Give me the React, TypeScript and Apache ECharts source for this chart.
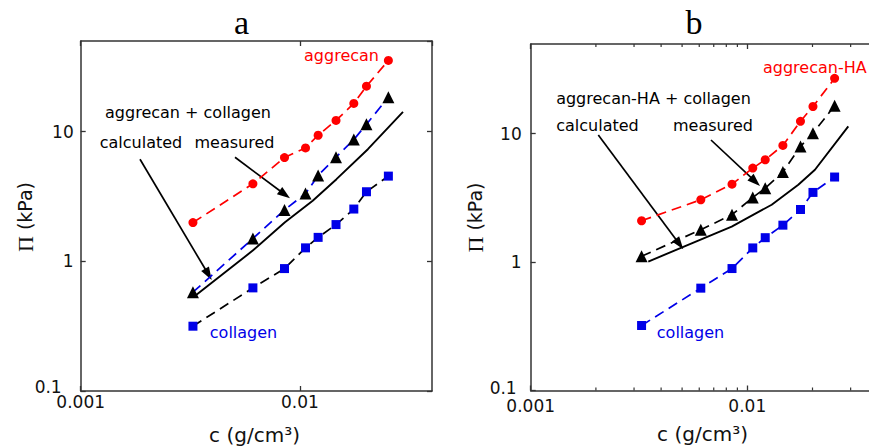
import React, { useEffect, useRef } from 'react';
import * as echarts from 'echarts';

// concentration c (g/cm^3) of the measured points (shared by both panels)
const concentration = [0.00325, 0.0061, 0.0085, 0.0106, 0.0121, 0.0146, 0.0176, 0.0201, 0.0253];

// Panel a
const aggrecanA = [1.99, 3.96, 6.31, 7.49, 9.38, 12.2, 16.5, 22.4, 35.4];
const mixMeasuredA = [0.578, 1.5, 2.49, 3.33, 4.59, 6.35, 8.68, 11.4, 18.4];
const collagenA = [0.316, 0.624, 0.879, 1.27, 1.53, 1.92, 2.53, 3.44, 4.54];
const calcConcA = [0.00326, 0.00609, 0.00854, 0.01143, 0.01467, 0.0204, 0.0295];
const calcA = [0.528, 1.21, 2.0, 2.93, 4.3, 7.32, 14.2];

// Panel b
const aggrecanHA = [2.1, 3.06, 4.05, 5.4, 6.27, 8.11, 12.5, 16.3, 27.0];
const mixMeasuredB = [1.11, 1.79, 2.34, 3.19, 3.77, 5.03, 7.96, 10.1, 16.5];
const collagenB = [0.321, 0.627, 0.891, 1.29, 1.55, 1.94, 2.57, 3.49, 4.6];
const calcConcB = [0.00349, 0.00605, 0.00847, 0.01296, 0.0172, 0.02053, 0.02926];
const calcB = [1.01, 1.49, 1.89, 2.8, 4.0, 5.24, 11.4];

// ticks
const xTickValues = [0.001, 0.01];
const xTickLabels = ['0.001', '0.01'];
const yTickValues = [0.1, 1, 10];
const yTickLabels = ['0.1', '1', '10'];
const minorTickValues = [0.002, 0.003, 0.004, 0.005, 0.006, 0.007, 0.008, 0.009, 0.02, 0.03];

const X_MIN = 0.001;
const X_MAX = 0.04;
const Y_MIN = 0.1;
const Y_MAX = 50;

const RED = '#ff0000';
const BLUE = '#0000e8';
const AXIS = '#333333';
const SANS = 'DejaVu Sans';
const SERIF = 'Liberation Serif';
const TICK_FONT = 17;

const zip = (xs: number[], ys: number[]) => xs.map((x, i) => [x, ys[i]]);
const findIdx = (arr: number[], v: number) => arr.findIndex((t) => Math.abs(t - v) / t < 1e-6);

function arrow(x1: number, y1: number, x2: number, y2: number) {
  const dx = x2 - x1;
  const dy = y2 - y1;
  const L = Math.hypot(dx, dy);
  const ux = dx / L;
  const uy = dy / L;
  const hl = 13;
  const hw = 4.5;
  const bx = x2 - ux * hl;
  const by = y2 - uy * hl;
  const px = -uy;
  const py = ux;
  return [
    { type: 'line', shape: { x1, y1, x2: bx + ux * 2, y2: by + uy * 2 }, style: { stroke: '#000', lineWidth: 1.7 } },
    {
      type: 'polygon',
      shape: { points: [[x2, y2], [bx + px * hw, by + py * hw], [bx - px * hw, by - py * hw]] },
      style: { fill: '#000' },
    },
  ];
}

function txt(x: number, y: number, text: string, color = '#000', align = 'center', size = 16, family = SANS) {
  return {
    type: 'text',
    x,
    y,
    style: { text, fill: color, fontSize: size, fontFamily: family, align, verticalAlign: 'middle' },
  };
}

function yName(x: number, y: number) {
  return {
    type: 'text',
    x,
    y,
    rotation: Math.PI / 2,
    style: {
      text: '{s|Π} (kPa)',
      fill: '#111',
      fontSize: 19,
      fontFamily: SANS,
      align: 'center',
      verticalAlign: 'middle',
      rich: {
        s: { fontFamily: SERIF, fontSize: 22, fill: '#111' },
      },
    },
  };
}

export default function App() {
  const ref = useRef<HTMLDivElement>(null);

  useEffect(() => {
    if (!ref.current) return;
    const chart = echarts.init(ref.current, null, { renderer: 'svg' });

    const panels = [
      { left: 80.7, top: 41, width: 351.3, height: 350, yMargin: 7, xMargin: 2, lowPad: [0, 12, 8, 0] },
      { left: 530.7, top: 44, width: 347, height: 346.5, yMargin: 9, xMargin: 7, lowPad: [0, 5, 6, 0] },
    ];

    const grid: any[] = [];
    const xAxis: any[] = [];
    const yAxis: any[] = [];
    panels.forEach((p, i) => {
      grid.push({ left: p.left, top: p.top, width: p.width, height: p.height, containLabel: false });
      const axisLine = { show: true, lineStyle: { color: AXIS, width: 1.5 } };
      const axisTick = { show: true, inside: true, length: 5, lineStyle: { color: AXIS, width: 1.3 } };
      ['bottom', 'top'].forEach((pos) => {
        xAxis.push({
          type: 'log',
          logBase: 10,
          gridIndex: i,
          position: pos,
          min: X_MIN,
          max: X_MAX,
          axisLine,
          axisTick,
          splitLine: { show: false },
          minorTick: { show: false },
          axisLabel: {
            show: pos === 'bottom',
            margin: p.xMargin,
            fontSize: TICK_FONT,
            fontFamily: SANS,
            color: '#111',
            showMaxLabel: false,
            formatter: (v: number) => {
              const k = findIdx(xTickValues, v);
              return k >= 0 ? xTickLabels[k] : '';
            },
          },
        });
      });
      ['left', 'right'].forEach((pos) => {
        yAxis.push({
          type: 'log',
          logBase: 10,
          gridIndex: i,
          position: pos,
          min: Y_MIN,
          max: Y_MAX,
          axisLine,
          axisTick,
          splitLine: { show: false },
          minorTick: { show: false },
          axisLabel: {
            show: pos === 'left',
            margin: p.yMargin,
            fontSize: TICK_FONT,
            fontFamily: SANS,
            color: '#111',
            showMaxLabel: false,
            formatter: (v: number) => {
              const k = findIdx(yTickValues, v);
              if (k < 0) return '';
              return k === 0 ? '{low|' + yTickLabels[k] + '}' : yTickLabels[k];
            },
            rich: {
              low: { fontSize: TICK_FONT, fontFamily: SANS, color: '#111', padding: p.lowPad },
            },
          },
        });
      });
    });

    const dashed = (color: string) => ({ color, width: 1.7, type: [10, 6] });

    const mkSeries = (i: number, agg: number[], meas: number[], col: number[], cc: number[], calc: number[], measLine: string, colLine: string) => [
      {
        type: 'line',
        xAxisIndex: 2 * i,
        yAxisIndex: 2 * i,
        data: zip(concentration, agg),
        symbol: 'circle',
        symbolSize: 9,
        itemStyle: { color: RED },
        lineStyle: dashed(RED),
        z: 3,
      },
      {
        type: 'line',
        xAxisIndex: 2 * i,
        yAxisIndex: 2 * i,
        data: zip(concentration, meas),
        symbol: 'triangle',
        symbolSize: 12,
        itemStyle: { color: '#000' },
        lineStyle: dashed(measLine),
        z: 3,
      },
      {
        type: 'line',
        xAxisIndex: 2 * i,
        yAxisIndex: 2 * i,
        data: zip(concentration, col),
        symbol: 'rect',
        symbolSize: 9,
        itemStyle: { color: BLUE },
        lineStyle: dashed(colLine),
        z: 3,
      },
      {
        type: 'line',
        xAxisIndex: 2 * i,
        yAxisIndex: 2 * i,
        data: zip(cc, calc),
        symbol: 'none',
        lineStyle: { color: '#000', width: 1.9 },
        z: 2,
      },
    ];

    const series: any[] = [
      ...mkSeries(0, aggrecanA, mixMeasuredA, collagenA, calcConcA, calcA, BLUE, '#000'),
      ...mkSeries(1, aggrecanHA, mixMeasuredB, collagenB, calcConcB, calcB, '#000', BLUE),
      {
        type: 'custom',
        xAxisIndex: 2,
        yAxisIndex: 2,
        silent: true,
        clip: false,
        data: minorTickValues.map((v) => [v, 1]),
        renderItem: (params: any, api: any) => {
          const x = api.value(0);
          const b = api.coord([x, Y_MIN]);
          const t = api.coord([x, Y_MAX]);
          const st = { stroke: AXIS, lineWidth: 1.2 };
          return {
            type: 'group',
            children: [
              { type: 'line', shape: { x1: b[0], y1: b[1], x2: b[0], y2: b[1] - 3 }, style: st },
              { type: 'line', shape: { x1: t[0], y1: t[1], x2: t[0], y2: t[1] + 3 }, style: st },
            ],
          };
        },
      },
    ];

    const graphic: any[] = [
      // titles
      txt(241.5, 22, 'a', '#000', 'center', 34, SERIF),
      txt(694, 22, 'b', '#000', 'center', 34, SERIF),
      // axis names
      txt(254.5, 435, 'c (g/cm³)', '#111', 'center', 20),
      txt(702.5, 434, 'c (g/cm³)', '#111', 'center', 20),
      yName(25, 217),
      yName(475, 217.5),
      // panel a annotations
      txt(341.5, 55, 'aggrecan', RED),
      txt(188, 112, 'aggrecan + collagen'),
      txt(141, 142.5, 'calculated'),
      txt(234.5, 142.5, 'measured'),
      txt(243.5, 332, 'collagen', BLUE),
      ...arrow(140, 159.3, 211.7, 280),
      ...arrow(235, 157.3, 290, 198.3),
      // panel b annotations
      txt(763, 67, 'aggrecan-HA', RED, 'left'),
      txt(653.5, 98, 'aggrecan-HA + collagen'),
      txt(597.5, 125.5, 'calculated'),
      txt(713, 125.5, 'measured'),
      txt(690.5, 332, 'collagen', BLUE),
      ...arrow(598.3, 135, 683.3, 249.3),
      ...arrow(711, 140, 760, 186),
    ];

    chart.setOption({
      animation: false,
      backgroundColor: '#ffffff',
      grid,
      xAxis,
      yAxis,
      series,
      graphic,
    });

    return () => chart.dispose();
  }, []);

  return (
    <div style={{ position: 'fixed', left: 0, top: 0, width: 869, height: 447, overflow: 'hidden', background: '#fff' }}>
      <div ref={ref} style={{ width: 880, height: 447 }} />
    </div>
  );
}
